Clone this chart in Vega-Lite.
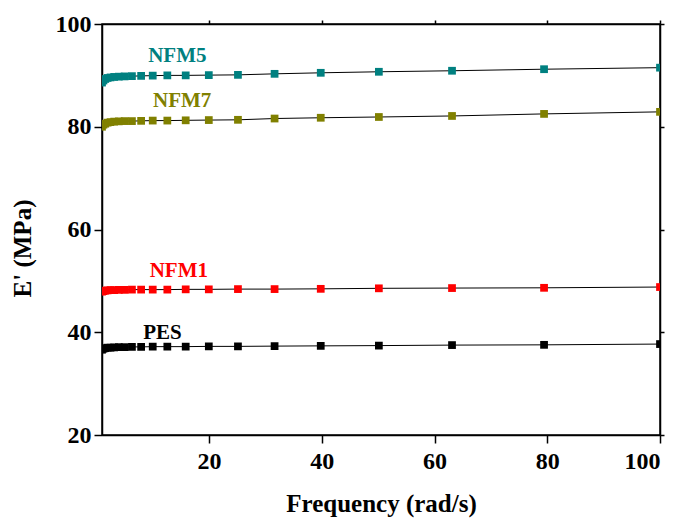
{
  "$schema": "https://vega.github.io/schema/vega-lite/v6.json",
  "width": 558,
  "height": 411,
  "autosize": {"type": "none"},
  "padding": {"left": 102, "top": 24, "right": 23, "bottom": 84},
  "background": "white",
  "config": {
    "view": {"stroke": "black", "strokeWidth": 1.5},
    "font": "Liberation Serif",
    "axis": {
      "grid": false,
      "domainColor": "black",
      "domainWidth": 1.5,
      "tickColor": "black",
      "tickWidth": 1.5,
      "tickSize": 8,
      "labelFont": "Liberation Serif",
      "labelFontWeight": "bold",
      "labelFontSize": 24,
      "labelColor": "black",
      "titleFont": "Liberation Serif",
      "titleFontWeight": "bold",
      "titleFontSize": 25,
      "titleColor": "black"
    }
  },
  "datasets": {
    "pts": [
      {"s": "NFM5", "f": 1, "e": 88.6}, {"s": "NFM5", "f": 1.259, "e": 89.0}, {"s": "NFM5", "f": 1.585, "e": 89.3}, {"s": "NFM5", "f": 1.995, "e": 89.5}, {"s": "NFM5", "f": 2.512, "e": 89.6}, {"s": "NFM5", "f": 3.162, "e": 89.7}, {"s": "NFM5", "f": 3.981, "e": 89.75}, {"s": "NFM5", "f": 5.012, "e": 89.8}, {"s": "NFM5", "f": 6.31, "e": 89.85}, {"s": "NFM5", "f": 7.943, "e": 89.9}, {"s": "NFM5", "f": 10, "e": 89.95}, {"s": "NFM5", "f": 12.59, "e": 90.0}, {"s": "NFM5", "f": 15.85, "e": 90.0}, {"s": "NFM5", "f": 19.95, "e": 90.05}, {"s": "NFM5", "f": 25.12, "e": 90.1}, {"s": "NFM5", "f": 31.62, "e": 90.3}, {"s": "NFM5", "f": 39.81, "e": 90.5}, {"s": "NFM5", "f": 50.12, "e": 90.7}, {"s": "NFM5", "f": 63.1, "e": 90.9}, {"s": "NFM5", "f": 79.43, "e": 91.2}, {"s": "NFM5", "f": 100, "e": 91.5},
      {"s": "NFM7", "f": 1, "e": 80.0}, {"s": "NFM7", "f": 1.259, "e": 80.4}, {"s": "NFM7", "f": 1.585, "e": 80.6}, {"s": "NFM7", "f": 1.995, "e": 80.8}, {"s": "NFM7", "f": 2.512, "e": 80.9}, {"s": "NFM7", "f": 3.162, "e": 81.0}, {"s": "NFM7", "f": 3.981, "e": 81.05}, {"s": "NFM7", "f": 5.012, "e": 81.1}, {"s": "NFM7", "f": 6.31, "e": 81.1}, {"s": "NFM7", "f": 7.943, "e": 81.15}, {"s": "NFM7", "f": 10, "e": 81.2}, {"s": "NFM7", "f": 12.59, "e": 81.2}, {"s": "NFM7", "f": 15.85, "e": 81.25}, {"s": "NFM7", "f": 19.95, "e": 81.3}, {"s": "NFM7", "f": 25.12, "e": 81.35}, {"s": "NFM7", "f": 31.62, "e": 81.6}, {"s": "NFM7", "f": 39.81, "e": 81.75}, {"s": "NFM7", "f": 50.12, "e": 81.9}, {"s": "NFM7", "f": 63.1, "e": 82.1}, {"s": "NFM7", "f": 79.43, "e": 82.5}, {"s": "NFM7", "f": 100, "e": 82.9},
      {"s": "NFM1", "f": 1, "e": 47.9}, {"s": "NFM1", "f": 1.259, "e": 48.0}, {"s": "NFM1", "f": 1.585, "e": 48.1}, {"s": "NFM1", "f": 1.995, "e": 48.15}, {"s": "NFM1", "f": 2.512, "e": 48.2}, {"s": "NFM1", "f": 3.162, "e": 48.2}, {"s": "NFM1", "f": 3.981, "e": 48.25}, {"s": "NFM1", "f": 5.012, "e": 48.25}, {"s": "NFM1", "f": 6.31, "e": 48.3}, {"s": "NFM1", "f": 7.943, "e": 48.3}, {"s": "NFM1", "f": 10, "e": 48.3}, {"s": "NFM1", "f": 12.59, "e": 48.3}, {"s": "NFM1", "f": 15.85, "e": 48.35}, {"s": "NFM1", "f": 19.95, "e": 48.35}, {"s": "NFM1", "f": 25.12, "e": 48.4}, {"s": "NFM1", "f": 31.62, "e": 48.4}, {"s": "NFM1", "f": 39.81, "e": 48.45}, {"s": "NFM1", "f": 50.12, "e": 48.55}, {"s": "NFM1", "f": 63.1, "e": 48.6}, {"s": "NFM1", "f": 79.43, "e": 48.65}, {"s": "NFM1", "f": 100, "e": 48.8},
      {"s": "PES", "f": 1, "e": 36.6}, {"s": "PES", "f": 1.259, "e": 36.8}, {"s": "PES", "f": 1.585, "e": 36.9}, {"s": "PES", "f": 1.995, "e": 37.0}, {"s": "PES", "f": 2.512, "e": 37.0}, {"s": "PES", "f": 3.162, "e": 37.05}, {"s": "PES", "f": 3.981, "e": 37.1}, {"s": "PES", "f": 5.012, "e": 37.1}, {"s": "PES", "f": 6.31, "e": 37.15}, {"s": "PES", "f": 7.943, "e": 37.15}, {"s": "PES", "f": 10, "e": 37.2}, {"s": "PES", "f": 12.59, "e": 37.2}, {"s": "PES", "f": 15.85, "e": 37.2}, {"s": "PES", "f": 19.95, "e": 37.25}, {"s": "PES", "f": 25.12, "e": 37.25}, {"s": "PES", "f": 31.62, "e": 37.3}, {"s": "PES", "f": 39.81, "e": 37.35}, {"s": "PES", "f": 50.12, "e": 37.4}, {"s": "PES", "f": 63.1, "e": 37.5}, {"s": "PES", "f": 79.43, "e": 37.55}, {"s": "PES", "f": 100, "e": 37.7}
    ],
    "labels": [
      {"s": "NFM5", "f": 14.36, "e": 92.66},
      {"s": "NFM7", "f": 15.23, "e": 83.79},
      {"s": "NFM1", "f": 14.63, "e": 50.81},
      {"s": "PES", "f": 11.73, "e": 38.63}
    ]
  },
  "resolve": {"axis": {"x": "independent", "y": "independent"}},
  "layer": [
    {
      "data": {"name": "pts"},
      "mark": {"type": "line", "color": "black", "strokeWidth": 1, "clip": true},
      "encoding": {
        "x": {"field": "f", "type": "quantitative", "scale": {"domain": [1, 100], "nice": false, "zero": false},
          "axis": {"title": "Frequency (rad/s)", "values": [20, 40, 60, 80, 100], "labelPadding": 6, "titlePadding": 18}},
        "y": {"field": "e", "type": "quantitative", "scale": {"domain": [20, 100], "nice": false, "zero": false},
          "axis": {"title": "E' (MPa)", "values": [20, 40, 60, 80, 100], "labelPadding": 3, "titleX": -67, "titleY": 224, "titleAngle": 270, "titleAlign": "center", "titleBaseline": "bottom"}},
        "detail": {"field": "s"}
      }
    },
    {
      "data": {"name": "pts"},
      "mark": {"type": "square", "size": 60, "filled": true, "opacity": 1, "clip": true},
      "encoding": {
        "x": {"field": "f", "type": "quantitative", "axis": null},
        "y": {"field": "e", "type": "quantitative", "axis": null},
        "color": {"field": "s", "type": "nominal", "legend": null,
          "scale": {"domain": ["NFM5", "NFM7", "NFM1", "PES"], "range": ["#008080", "#808000", "#ff0000", "#000000"]}}
      }
    },
    {
      "data": {"name": "labels"},
      "mark": {"type": "text", "font": "Liberation Serif", "fontWeight": "bold", "fontSize": 21, "align": "center", "baseline": "alphabetic"},
      "encoding": {
        "x": {"field": "f", "type": "quantitative",
          "axis": {"orient": "top", "labels": false, "title": null, "tickSize": 4, "values": [20, 40, 60, 80, 100]}},
        "y": {"field": "e", "type": "quantitative",
          "axis": {"orient": "right", "labels": false, "title": null, "tickSize": 4, "values": [20, 40, 60, 80, 100]}},
        "text": {"field": "s"},
        "color": {"field": "s", "type": "nominal", "legend": null}
      }
    }
  ]
}
